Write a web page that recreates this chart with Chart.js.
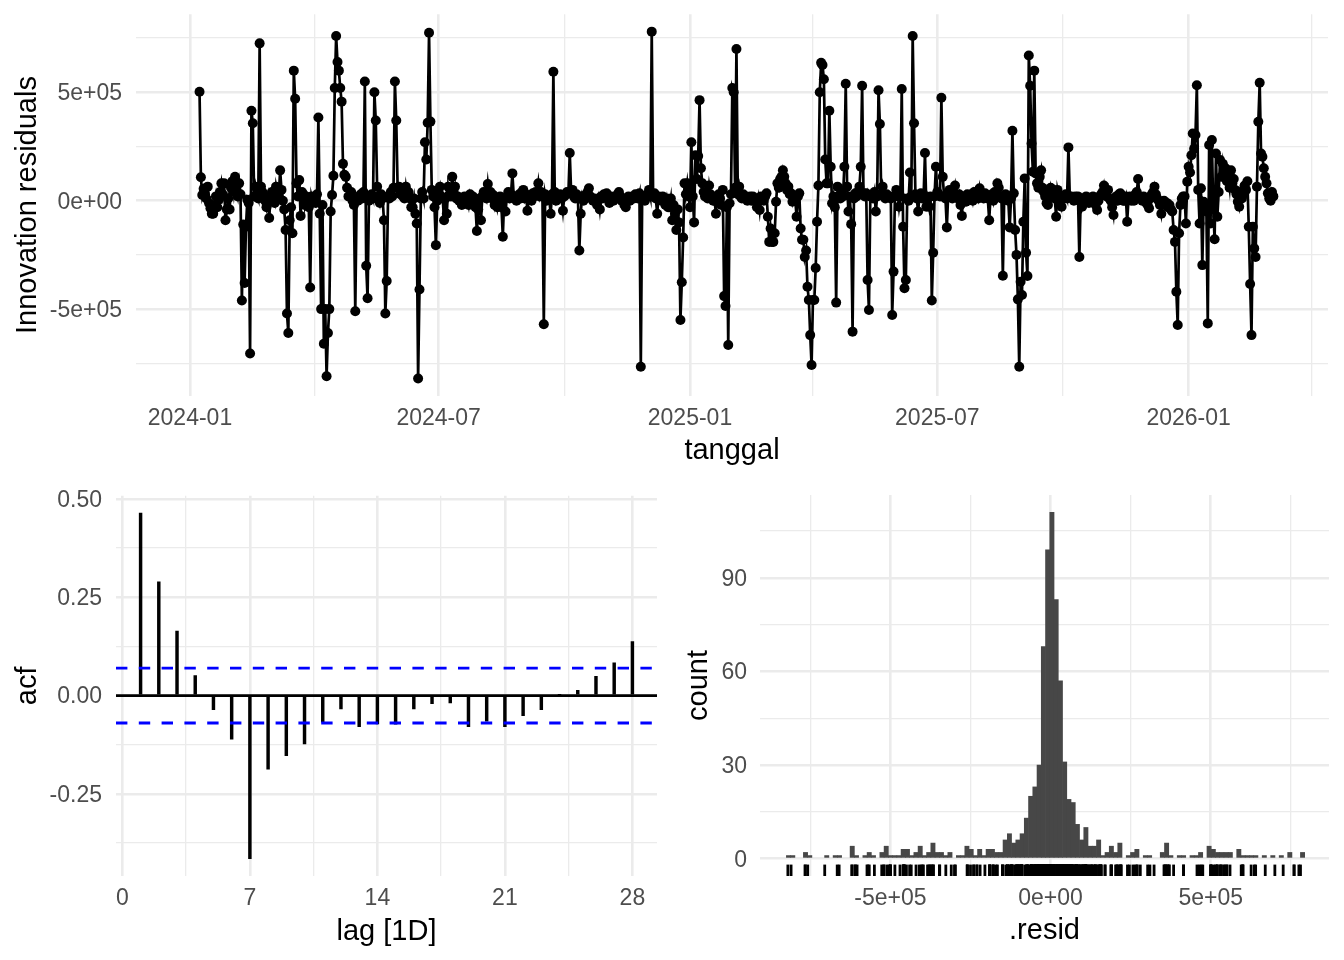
<!DOCTYPE html>
<html>
<head>
<meta charset="utf-8">
<title>Innovation residuals</title>
<script src="https://cdn.jsdelivr.net/npm/chart.js@4.4.1/dist/chart.umd.min.js"></script>
<style>
  html, body { margin: 0; padding: 0; background: #fff; }
  #wrap { position: relative; width: 1344px; height: 960px; }
  canvas { position: absolute; }
</style>
</head>
<body>
<div id="wrap">
  <canvas id="resid" width="1344" height="470" style="left:0;top:0"></canvas>
  <canvas id="acf" width="680" height="490" style="left:0;top:470px"></canvas>
  <canvas id="hist" width="664" height="490" style="left:680px;top:470px"></canvas>
</div>
<script>
/*
 * Innovation residuals, one value per day (in thousands)
 */
const firstDay = '2024-01-08';
const residK = [
  503, 108, 26, 55, 30, 10, 65, -12, -35, -60,
  -60, -20, 20, -30, 5, 40, 80, 30, 80, -90,
  -40, 10, -40, 60, 90, 40, 110, 50, 20, 80,
  30, -460, -110, -380, -120, 5, -10, -705, 415, 357,
  20, 65, 30, 10, 726, 65, 40, 20, 0, -30,
  10, -80, 20, 40, 10, -10, 65, 30, 20, 140,
  50, 0, -40, -135, -520, -610, -90, -30, -150, 600,
  470, 80, 20, 95, -70, 40, 30, -20, 20, 0,
  -30, -400, 20, -5, 10, -10, 30, 384, -60, -500,
  -20, -660, -500, -810, -610, -500, -50, 26, 115, 520,
  760, 640, 600, 520, 457, 170, 120, 110, 60, 20,
  20, 40, 0, -20, -510, 10, 0, 20, 30, 10,
  40, 550, -300, -450, 0, 20, 30, 10, 500, 370,
  65, 20, -10, 30, 10, -90, -520, -370, 20, 10,
  40, 20, 60, 550, 370, 60, 65, 30, 40, 20,
  10, 65, 20, 40, 10, -30, -30, 10, -60, -105,
  -820, -410, 10, 40, 10, 270, 190, 360, 775, 365,
  50, 20, -30, -205, 0, 40, 65, 20, 10, -90,
  10, -60, 65, 30, 20, 110, 40, 65, 10, 20,
  0, 10, -20, 0, 20, 0, 10, -20, 30, 10,
  20, -10, -30, -140, -40, 10, -90, 20, 40, 30,
  10, 77, 20, 40, 10, 26, -20, 10, -30, 10,
  20, -30, -166, 10, -50, 20, 40, 10, 30, 126,
  20, 10, 0, 20, 30, 10, 40, 50, 10, 30,
  -46, 10, 20, 0, 34, 20, 40, 30, 80, 20,
  40, 20, -570, 30, 0, 20, 10, -60, 30, 595,
  40, 0, 20, 10, 30, 10, -46, 20, 30, 40,
  34, 220, 40, 50, 20, 10, 30, 10, -230, -60,
  20, 0, 10, 30, 40, 57, 20, 10, 0, 10,
  0, -20, 10, -40, 20, 10, 30, 20, 34, 10,
  -10, 20, 10, 0, 20, 10, 30, 40, 20, 0,
  10, -20, -30, 10, 20, 0, 10, 20, 10, 30,
  20, 10, 34, -766, 20, 10, 0, 20, 30, 50,
  20, 780, 30, 34, 10, -60, 20, 10, 0, 20,
  10, -20, 10, -30, -30, 10, -90, -20, -60, -135,
  -40, -100, -550, -376, -170, 80, 30, 80, 20, -30,
  270, 20, -100, 210, 100, 206, 464, 150, 80, 40,
  20, 20, 10, 70, 30, 10, 0, 0, -60, 20,
  30, 10, -20, 50, -440, -486, -30, -666, -12, 30,
  520, 500, 60, 700, 30, 65, 20, 10, 30, 10,
  20, 0, 10, 20, 0, 20, 10, 0, -30, 10,
  -43, 20, 10, 0, 20, 34, -74, -190, -128, -190,
  -190, -150, -5, 80, 60, 100, 110, 140, 110, 80,
  50, 65, 30, 34, -5, 20, 10, -74, 20, 34,
  -128, -180, -180, -260, -230, -397, -458, -620, -758, -458,
  -458, -310, -97, 70, 500, 636, 626, 560, 190, 80,
  80, 415, 157, -12, 20, -30, -470, 65, 20, 10,
  34, 20, 157, 540, 65, -50, 20, -108, -604, 10,
  34, 20, 40, 65, 157, 530, 34, 20, 34, -366,
  -504, 20, 20, 10, 40, -50, 20, 510, 354, 30,
  65, 20, 10, 30, 20, 20, 10, -527, -327, 20,
  50, 30, -28, 20, 515, -120, -404, -366, 10, 0,
  130, 20, 760, 357, 30, 10, -50, 20, 34, 10,
  20, 220, -28, 10, -28, 20, -460, -240, 20, 157,
  40, 30, 20, 475, 110, 20, 10, -123, 30, 50,
  20, 10, 40, 70, 20, 10, 30, -20, -70, 20,
  10, -5, 30, 20, 10, 30, 0, 40, 20, 30,
  10, 57, 20, 30, 10, 34, 20, 10, -90, 20,
  30, 0, 40, 30, 80, 60, 20, 10, -346, 20,
  30, 10, 0, -123, 10, 323, 34, -135, -250, -455,
  -766, -374, -435, -97, 103, -240, -347, 670, 530, 264,
  134, 600, 126, 80, 60, 110, 140, 60, 40, 20,
  -12, -20, 20, 60, 30, 50, 10, -74, 50, 20,
  0, -28, 10, 20, 30, 10, 246, 20, 20, 10,
  0, 20, 10, 20, -260, 10, -28, 0, 10, 20,
  0, -10, 10, 0, 20, 10, -20, -43, 0, 20,
  30, 40, 70, 30, 20, 50, 10, 0, -30, -66,
  10, 20, 0, 30, 34, 10, 0, 0, 20, -97,
  10, 20, 0, 10, 0, 30, 40, 100, 20, 10,
  0, 20, 10, -10, -20, -35, 10, 30, 40, 65,
  30, 10, 0, -20, -60, -10, 0, -20, -10, -30,
  -20, -40, -50, -135, -190, -420, -573, -150, -20, 10,
  20, 20, -105, 88, 157, 130, 210, 310, 240, 303,
  533, 50, -105, 57, -297, -5, -20, -50, -566, 257,
  -105, 280, -40, -178, 218, -74, 40, 188, 110, 170,
  120, 150, 90, 110, 60, 140, 80, 100, 50, 30,
  -5, -28, 40, 10, 30, 70, 50, 90, -120, -384,
  -620, -120, -220, -260, 65, 364, 544, 218, 203, 150,
  110, 80, 34, 10, 0, 40, 20
];

// autocorrelation of the residuals
const acfLags = [1, 2, 3, 4, 5, 6, 7, 8, 9, 10, 11, 12, 13, 14,
                 15, 16, 17, 18, 19, 20, 21, 22, 23, 24, 25, 26, 27, 28];
const acfValues = [0.464, 0.289, 0.164, 0.051, -0.036, -0.111, -0.415, -0.187, -0.153, -0.123,
                   -0.068, -0.034, -0.079, -0.072, -0.073, -0.034, -0.021, -0.019, -0.079, -0.065,
                   -0.079, -0.051, -0.036, 0.002, 0.013, 0.049, 0.083, 0.137];

// histogram counts (first bin centre and bin width in residual units)
const histFirstCentre = -818000;
const histBinWidth = 13260;
const histCounts = [
  1, 1, 0, 0, 2, 1, 0, 0, 0, 1,
  0, 1, 1, 0, 0, 4, 1, 0, 1, 2,
  1, 0, 2, 4, 1, 1, 1, 3, 3, 1,
  2, 4, 1, 2, 5, 2, 2, 1, 2, 0,
  1, 1, 4, 3, 1, 3, 1, 3, 3, 2,
  2, 6, 8, 5, 6, 8, 13, 20, 23, 30,
  68, 99, 111, 83, 57, 31, 19, 18, 11, 6,
  10, 4, 4, 6, 1, 2, 4, 2, 5, 0,
  1, 2, 3, 0, 1, 1, 0, 0, 2, 5,
  1, 0, 1, 1, 0, 1, 1, 2, 0, 4,
  3, 2, 2, 2, 2, 0, 3, 1, 1, 1,
  1, 0, 1, 0, 1, 0, 1, 0, 2, 0, 0, 2
];

// tick labels
const dateBreaks = ['2024-01-01', '2024-07-01', '2025-01-01', '2025-07-01', '2026-01-01'];
const dateLabels = ['2024-01', '2024-07', '2025-01', '2025-07', '2026-01'];
const dateMinor = ['2024-04-01', '2024-10-01', '2025-04-01', '2025-10-01', '2026-04-01'];
const residBreaks = [-500000, 0, 500000];
const residLabels = ['-5e+05', '0e+00', '5e+05'];
const residMinor = [-750000, -250000, 250000, 750000];
const acfBreaks = [-0.25, 0, 0.25, 0.5];
const acfLabels = ['-0.25', '0.00', '0.25', '0.50'];
const acfMinor = [-0.375, -0.125, 0.125, 0.375];
const lagBreaks = [0, 7, 14, 21, 28];
const lagLabels = ['0', '7', '14', '21', '28'];
const lagMinor = [3.5, 10.5, 17.5, 24.5];
const countBreaks = [0, 30, 60, 90];
const countLabels = ['0', '30', '60', '90'];
const countMinor = [15, 45, 75, 105];

/*
 * helpers
 */
const GRID = '#EBEBEB';
const TICK = '#4D4D4D';
Chart.defaults.font.family = "'Liberation Sans', Arial, Helvetica, sans-serif";
Chart.defaults.animation = false;

const dayZero = Date.UTC(2024, 0, 1);
function dayOf(s) {
    const p = s.split('-').map(Number);
    return (Date.UTC(p[0], p[1] - 1, p[2]) - dayZero) / 86400000;
}

function near(a, b) {
    return Math.abs(a - b) < 1e-6 * Math.max(1, Math.abs(b));
}

// build one ggplot-like axis with fixed major/minor breaks
function axis(o) {
    const all = o.major.concat(o.minor).sort((a, b) => a - b);
    const horiz = o.pos === 'x';
    return {
        type: 'linear',
        min: o.min,
        max: o.max,
        offset: false,
        afterBuildTicks: s => { s.ticks = all.map(v => ({ value: v })); },
        afterFit: s => {
            if (horiz) s.height = o.size; else s.width = o.size;
            // keep the plot area exactly where the layout padding puts it
            s.paddingTop = 0; s.paddingBottom = 0; s.paddingLeft = 0; s.paddingRight = 0;
        },
        border: { display: false },
        grid: {
            color: GRID,
            offset: false,
            drawTicks: false,
            lineWidth: c => (c.tick && o.major.some(m => near(c.tick.value, m))) ? 2.6 : 1.3
        },
        ticks: {
            autoSkip: false,
            maxRotation: 0,
            minRotation: 0,
            padding: o.pad,
            labelOffset: horiz ? 0 : 1.5,
            color: TICK,
            font: { size: 23 },
            callback: v => {
                const i = o.major.findIndex(m => near(v, m));
                return i < 0 ? '' : o.labels[i];
            }
        },
        title: {
            display: true,
            text: o.title,
            color: '#000',
            font: { size: 29 },
            padding: horiz ? { top: 0, bottom: o.titlePad } : { top: o.titlePad, bottom: 0 }
        }
    };
}

const noChrome = { legend: { display: false }, tooltip: { enabled: false } };

/*
 * top: residuals over time
 */
const start = dayOf(firstDay);
const residPoints = residK.map((v, i) => ({ x: start + i, y: v * 1000 }));

new Chart(document.getElementById('resid'), {
    type: 'line',
    data: {
        datasets: [{
            data: residPoints,
            borderColor: '#000',
            borderWidth: 2.7,
            tension: 0,
            pointRadius: 5,
            pointHoverRadius: 5,
            pointBorderWidth: 0,
            pointBackgroundColor: '#000'
        }]
    },
    options: {
        responsive: false,
        layout: { padding: { top: 14.3, right: 16, bottom: 0, left: 0 } },
        plugins: noChrome,
        scales: {
            x: axis({ pos: 'x', min: -39.5, max: 833, size: 74.2, pad: 9.5, titlePad: 1.6,
                      major: dateBreaks.map(dayOf), labels: dateLabels, minor: dateMinor.map(dayOf),
                      title: 'tanggal' }),
            y: axis({ pos: 'y', min: -900000, max: 860000, size: 136, pad: 14, titlePad: 10.1,
                      major: residBreaks, labels: residLabels, minor: residMinor,
                      title: 'Innovation residuals' })
        }
    }
});

/*
 * bottom left: ACF with zero line and 95% bounds
 */
const ciBound = 1.96 / Math.sqrt(residK.length);

const refLines = {
    id: 'refLines',
    afterDatasetsDraw(chart, args, opts) {
        const { ctx, chartArea: a, scales: { y } } = chart;
        ctx.save();
        opts.lines.forEach(l => {
            const py = y.getPixelForValue(l.value);
            ctx.beginPath();
            ctx.setLineDash(l.dash || []);
            ctx.lineWidth = l.width;
            ctx.strokeStyle = l.color;
            ctx.moveTo(a.left, py);
            ctx.lineTo(a.right, py);
            ctx.stroke();
        });
        ctx.restore();
    }
};

new Chart(document.getElementById('acf'), {
    type: 'bar',
    data: {
        datasets: [{
            data: acfLags.map((l, i) => ({ x: l, y: acfValues[i] })),
            backgroundColor: '#000',
            barThickness: 2.8
        }]
    },
    plugins: [refLines],
    options: {
        responsive: false,
        layout: { padding: { top: 25.8, right: 23, bottom: 0, left: 0 } },
        plugins: Object.assign({
            refLines: {
                lines: [
                    { value: 0, color: '#000', width: 2.8 },
                    { value: ciBound, color: '#0000FF', width: 2.8, dash: [11.4, 11.4] },
                    { value: -ciBound, color: '#0000FF', width: 2.8, dash: [11.4, 11.4] }
                ]
            }
        }, noChrome),
        scales: {
            x: axis({ pos: 'x', min: -0.35, max: 29.35, size: 84, pad: 9, titlePad: 10.6,
                      major: lagBreaks, labels: lagLabels, minor: lagMinor, title: 'lag [1D]' }),
            y: axis({ pos: 'y', min: -0.459, max: 0.508, size: 116, pad: 14, titlePad: 10.1,
                      major: acfBreaks, labels: acfLabels, minor: acfMinor, title: 'acf' })
        }
    }
});

/*
 * bottom right: histogram of residuals with rug
 */
const histMinY = -5.55, histMaxY = 116.55;
const rugY = histMinY + 0.03 * (histMaxY - histMinY) / 2;

new Chart(document.getElementById('hist'), {
    type: 'bar',
    data: {
        datasets: [{
            type: 'scatter',
            data: residK.map(v => ({ x: v * 1000, y: rugY })),
            pointStyle: 'line',
            rotation: 90,
            pointRadius: 5.7,
            pointHoverRadius: 5.7,
            pointBorderColor: '#000',
            pointBorderWidth: 2.8
        }, {
            data: histCounts.map((c, i) => ({ x: histFirstCentre + i * histBinWidth, y: c })),
            backgroundColor: '#474747',
            borderWidth: 0,
            barPercentage: 1.0,
            categoryPercentage: 1.0,
            inflateAmount: c => (c.raw && c.raw.y === 0) ? 0 : 0.33
        }]
    },
    options: {
        responsive: false,
        layout: { padding: { top: 25, right: 15, bottom: 0, left: 0 } },
        plugins: noChrome,
        scales: {
            x: axis({ pos: 'x', min: -907000, max: 869000, size: 84, pad: 8.5, titlePad: 11.6,
                      major: residBreaks, labels: residLabels, minor: residMinor, title: '.resid' }),
            y: axis({ pos: 'y', min: histMinY, max: histMaxY, size: 80, pad: 13, titlePad: 1.6,
                      major: countBreaks, labels: countLabels, minor: countMinor, title: 'count' })
        }
    }
});
</script>
</body>
</html>
